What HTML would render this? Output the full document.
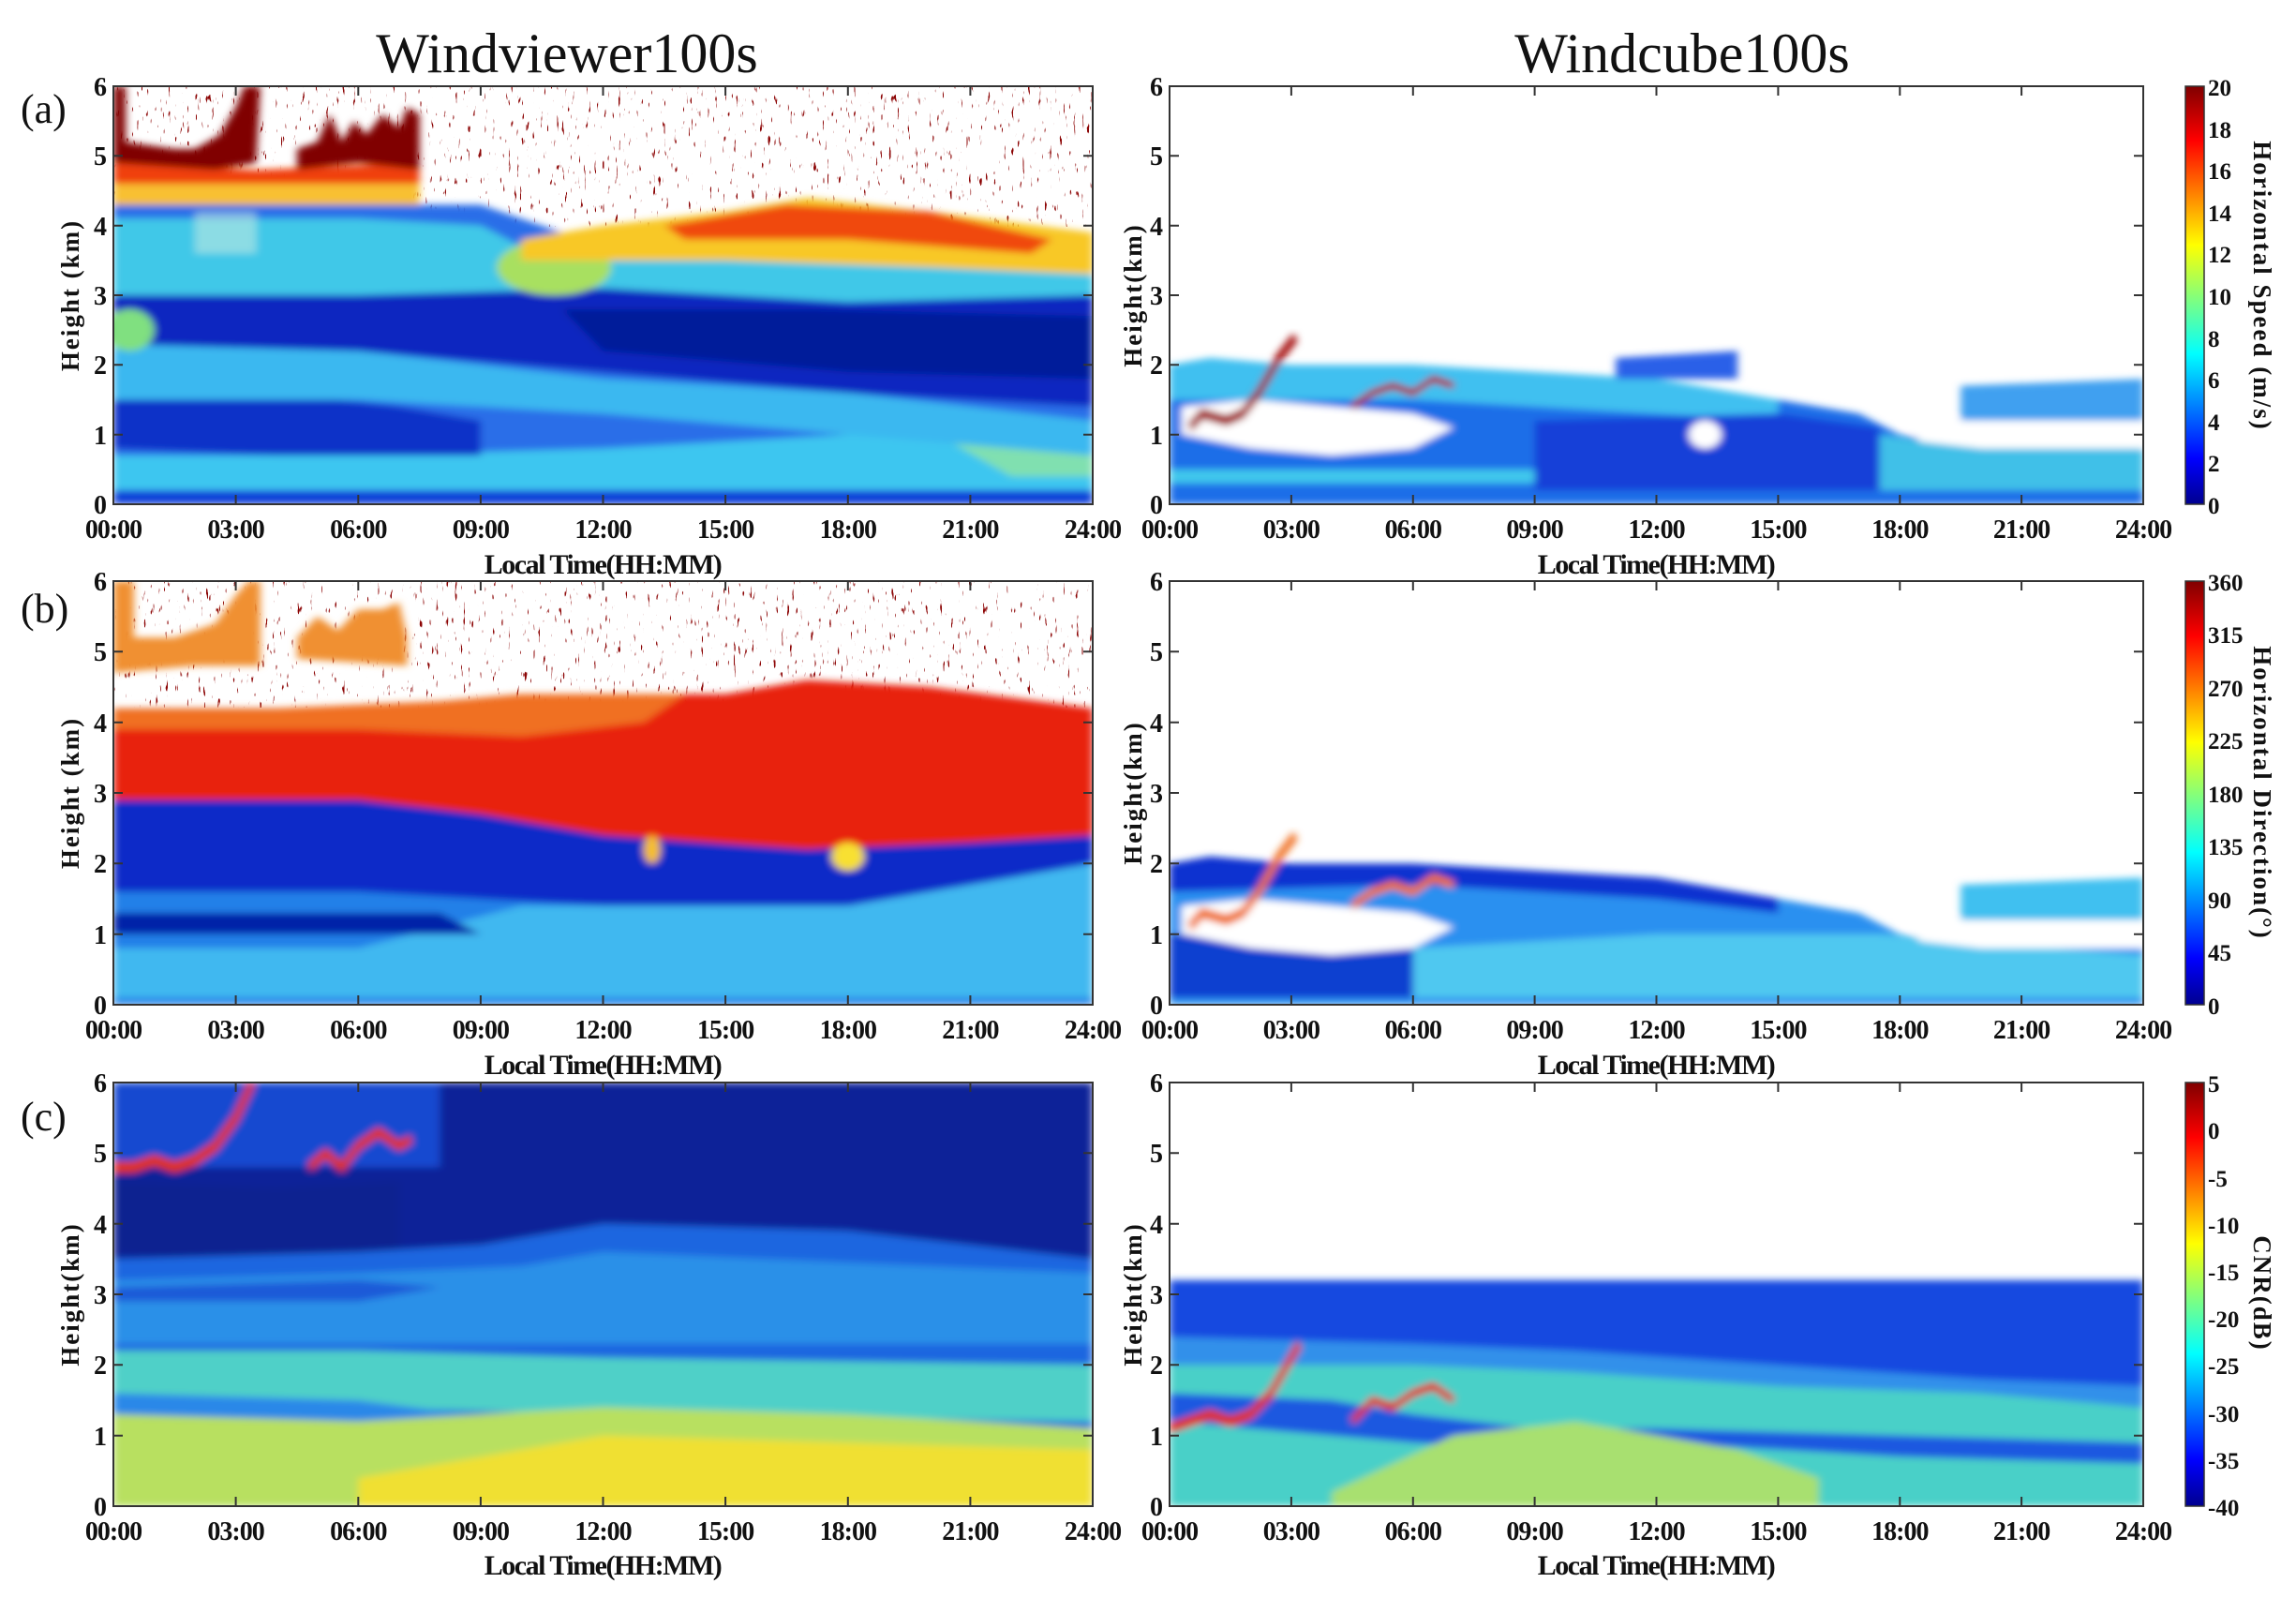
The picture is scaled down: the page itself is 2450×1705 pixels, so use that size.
<!DOCTYPE html>
<html><head><meta charset="utf-8"><style>
html,body{margin:0;padding:0;background:#fff}
svg{display:block}
text{font-family:"Liberation Serif",serif;fill:#111}
.tl{font-size:28px;font-weight:bold;text-anchor:middle;letter-spacing:-1px}
.yl{font-size:28px;font-weight:bold;text-anchor:end}
.cb{font-size:25px;font-weight:bold}
.xt{font-size:30px;font-weight:bold;text-anchor:middle;letter-spacing:-1.5px}
.yt{font-size:27px;font-weight:bold;text-anchor:middle;letter-spacing:2px}
.ttl{font-size:60px;text-anchor:middle}
.pl{font-size:44px}
</style></head><body>
<svg width="2450" height="1705" viewBox="0 0 2450 1705" xmlns="http://www.w3.org/2000/svg">
<defs>
<filter id="bl" x="-5%" y="-5%" width="110%" height="110%"><feGaussianBlur stdDeviation="1.0 0.5"/></filter>
<filter id="spk" x="0" y="0" width="1" height="1" color-interpolation-filters="sRGB"><feTurbulence type="fractalNoise" baseFrequency="0.35 0.07" numOctaves="2" seed="4"/><feColorMatrix values="0 0 0 0 0.55  0 0 0 0 0.02  0 0 0 0 0.02  16 0 0 0 -11.2"/></filter>
<linearGradient id="jet" x1="0" y1="1" x2="0" y2="0">
<stop offset="0" stop-color="#00008f"/><stop offset="0.11" stop-color="#0000ff"/><stop offset="0.36" stop-color="#00ffff"/><stop offset="0.62" stop-color="#ffff00"/><stop offset="0.87" stop-color="#ff0000"/><stop offset="1" stop-color="#800000"/>
</linearGradient>
</defs>

<text class="ttl" x="605" y="77">Windviewer100s</text>
<text class="ttl" x="1795" y="77">Windcube100s</text>
<text class="pl" x="22" y="131">(a)</text>
<text class="pl" x="22" y="664">(b)</text>
<text class="pl" x="22" y="1206">(c)</text>

<!-- ===== Row a left ===== -->
<rect x="121" y="92" width="1045" height="150" filter="url(#spk)"/>
<svg x="121" y="92" width="1045" height="446" viewBox="0 0 240 60" preserveAspectRatio="none">
<g filter="url(#bl)">
<polygon fill="#2a6ee8" points="0,16 75,17 90,17 100,19 110,21 120,22 150,18 170,16 200,18 240,22 240,60 0,60"/>
<polygon fill="#3cc6f0" points="0,53 60,53 120,52 180,50 240,49 240,58 0,58"/>
<polygon fill="#80e0b0" points="205,51 240,50 240,56 220,56"/>
<polygon fill="#1040d8" points="0,58 240,58 240,60 0,60"/>
<polygon fill="#0a30c8" points="0,45 40,44 70,46 90,48 90,53 40,53 0,52"/>
<polygon fill="#3ab8f0" points="0,37 60,38 120,42 180,44 240,48 240,53 180,50 120,47 60,45 0,45"/>
<polygon fill="#0a28c0" points="0,29 60,30 120,29 180,30 240,30 240,46 180,44 120,41 60,38 0,37"/>
<polygon fill="#001a9a" points="110,32 170,32 240,33 240,42 180,41 120,38"/>
<ellipse fill="#80e080" cx="4" cy="35" rx="6" ry="3"/>
<polygon fill="#40c8e8" points="0,19 60,19 90,20 100,23 120,24 180,22 240,24 240,30 180,31 120,29 60,30 0,30"/>
<ellipse fill="#a8e060" cx="108" cy="26" rx="14" ry="4"/>
<polygon fill="#f8c828" points="100,22 120,20 150,18 170,16 200,18 240,21 240,27 200,26 150,25 120,25 100,25"/>
<polygon fill="#f04810" points="135,20 165,17 200,18 230,22 225,24 180,22 140,22"/>
<polygon fill="#f8c030" points="0,13 75,13 75,17 40,17 0,17"/>
<polygon fill="#f04010" points="0,11 35,12 75,11 75,14 40,14 0,14"/>
<polygon fill="#800000" points="0,0 3,0 3,8 15,9 20,9 26,7 30,3 32,0 36,0 35,11 25,12 0,11"/>
<polygon fill="#800000" points="45,9 50,8 53,4 56,8 59,5 62,7 66,4 70,6 72,3 75,4 75,12 60,11 45,12"/>
<polygon fill="#d8f0e0" opacity="0.5" points="20,18 35,18 35,24 20,24"/>
</g>
</svg>

<!-- ===== Row a right ===== -->
<svg x="1248" y="92" width="1039" height="446" viewBox="0 0 240 60" preserveAspectRatio="none">
<g filter="url(#bl)">
<polygon fill="#1e6ee8" points="0,40 10,39 30,40 60,40 90,41 120,42 150,45 170,47 180,50 200,52 240,51 240,60 0,60"/>
<polygon fill="#40c0f0" points="0,40 10,39 30,40 60,40 90,41 120,42 150,45 150,48 120,47 60,45 0,45"/>
<polygon fill="#1440d8" points="90,48 150,47 175,49 175,58 90,58"/>
<polygon fill="#40c8ec" points="0,55 90,55 90,57 0,57"/>
<polygon fill="#40c0e8" points="175,50 200,52 240,51 240,58 175,58"/>
<polygon fill="#ffffff" points="3,46 20,45 40,46 60,47 70,49 60,52 40,53 20,52 3,50"/>
<polygon fill="#ffffff" points="180,47 200,48 240,46 240,52 200,52 185,51"/>
<ellipse fill="#ffffff" cx="132" cy="50" rx="4" ry="2"/>
<polygon fill="#2a60e8" points="110,39 140,38 140,42 110,42"/>
<polygon fill="#40a0f0" points="195,43 240,42 240,48 195,48"/>
<polyline fill="none" stroke="#a00000" stroke-width="1.5" points="5,49 8,47 14,48 18,47 22,44 27,39 31,36"/>
<polyline fill="none" stroke="#b00000" stroke-width="1" points="45,46 50,44 55,43 60,44 65,42 70,43"/>
</g>
</svg>

<!-- ===== Row b left ===== -->
<rect x="121" y="620" width="1045" height="135" filter="url(#spk)"/>
<svg x="121" y="620" width="1045" height="452" viewBox="0 0 240 60" preserveAspectRatio="none">
<g filter="url(#bl)">
<polygon fill="#2080e8" points="0,18 240,18 240,60 0,60"/>
<polygon fill="#40b8f0" points="0,52 60,52 100,46 150,46 200,42 240,40 240,59 0,59"/>
<polygon fill="#0a2cc8" points="0,31 60,31 90,33 120,36 170,38 210,37 240,36 240,40 180,46 120,46 60,44 0,44"/>
<polygon fill="#0020a8" points="0,47 80,47 90,50 0,50"/>
<polygon fill="#e82010" points="0,19 40,19 80,18 100,17 120,16 150,16 170,14 200,15 240,18 240,36 210,37 170,38 120,36 90,33 60,31 0,31"/>
<polygon fill="#f07020" points="0,18 40,18 80,17 100,16 120,16 140,16 130,20 100,22 60,21 0,21"/>
<polygon fill="#f09030" points="0,0 5,0 5,8 15,8 25,6 30,2 33,0 36,0 36,12 20,12 0,13"/>
<polygon fill="#f09030" points="45,8 50,5 55,7 60,4 66,4 70,3 72,8 72,12 45,11"/>
<ellipse fill="#f8e030" cx="180" cy="39" rx="4" ry="2"/>
<ellipse fill="#f8c020" cx="132" cy="38" rx="2" ry="2"/>
</g>
</svg>

<!-- ===== Row b right ===== -->
<svg x="1248" y="620" width="1039" height="452" viewBox="0 0 240 60" preserveAspectRatio="none">
<g filter="url(#bl)">
<polygon fill="#2a90f0" points="0,40 10,39 30,40 60,40 90,41 120,42 150,45 170,47 180,50 200,52 240,51 240,60 0,60"/>
<polygon fill="#0a30d0" points="0,40 10,39 30,40 60,40 90,41 120,42 150,45 150,47 120,45 60,43 0,44"/>
<polygon fill="#50c8f0" points="60,52 120,50 175,50 240,53 240,59 60,59"/>
<polygon fill="#1040d0" points="0,50 60,52 60,59 0,59"/>
<polygon fill="#ffffff" points="3,46 20,45 40,46 60,47 70,49 60,52 40,53 20,52 3,50"/>
<polygon fill="#ffffff" points="180,47 200,48 240,46 240,52 200,52 185,51"/>
<polygon fill="#40c0f0" points="195,43 240,42 240,48 195,48"/>
<polyline fill="none" stroke="#f07020" stroke-width="1.5" points="5,49 8,47 14,48 18,47 22,44 27,39 31,36"/>
<polyline fill="none" stroke="#f07020" stroke-width="1.2" points="45,46 50,44 55,43 60,44 65,42 70,43"/>
</g>
</svg>

<!-- ===== Row c left ===== -->
<svg x="121" y="1155" width="1045" height="452" viewBox="0 0 240 60" preserveAspectRatio="none">
<g filter="url(#bl)">
<rect x="0" y="0" width="240" height="60" fill="#0a2298"/>
<polygon fill="#1848d0" points="0,0 80,0 80,12 0,12"/>
<polygon fill="#0a2090" points="0,14 40,15 70,14 70,24 40,26 0,24"/>
<polygon fill="#1a66e0" points="0,25 60,24 90,23 120,20 180,21 240,25 240,60 0,60"/>
<polygon fill="#2a90e8" points="0,28 60,27 100,26 120,24 240,27 240,37 120,37 0,37"/>
<polygon fill="#1a5ad8" points="0,29 60,28 80,29 60,31 0,31"/>
<polygon fill="#50d0c8" points="0,38 60,38 120,39 240,40 240,48 120,47 0,45"/>
<polygon fill="#2a88e8" points="0,44 60,45 100,48 60,48 0,47"/>
<polygon fill="#b8e060" points="0,47 60,48 120,46 180,47 240,49 240,60 0,60"/>
<polygon fill="#f0e030" points="60,56 120,50 180,51 240,52 240,60 60,60"/>
<polyline fill="none" stroke="#e03010" stroke-width="1.6" points="0,12 5,12 10,11 15,12 20,11 25,9 30,5 34,0"/>
<polyline fill="none" stroke="#e03010" stroke-width="1.4" points="48,12 52,10 56,12 60,9 65,7 70,9 73,8"/>
</g>
</svg>

<!-- ===== Row c right ===== -->
<svg x="1248" y="1155" width="1039" height="452" viewBox="0 0 240 60" preserveAspectRatio="none">
<g filter="url(#bl)">
<rect x="0" y="28" width="240" height="32" fill="#48d0c8"/>
<polygon fill="#1248e0" points="0,28 240,28 240,46 200,44 150,41 100,40 60,39 0,38"/>
<polygon fill="#3090ea" points="0,36 60,37 100,38 150,40 200,42 240,43 240,46 200,44 150,43 100,41 60,40 0,40"/>
<polygon fill="#1a58e0" points="0,44 40,45 60,47 90,49 120,49 180,50 240,51 240,54 180,53 120,51 90,52 60,51 0,48"/>
<polygon fill="#a8e070" points="40,58 70,50 100,48 140,52 160,56 160,60 40,60"/>
<polyline fill="none" stroke="#e03010" stroke-width="1.5" points="0,49 5,48 10,47 15,48 20,47 25,44 29,40 32,37"/>
<polyline fill="none" stroke="#e03010" stroke-width="1.2" points="45,48 50,45 55,46 60,44 65,43 70,45"/>
</g>
</svg>

<g fill="none" stroke="#333" stroke-width="2">
<rect x="121" y="92" width="1045" height="446"/>
<rect x="1248" y="92" width="1039" height="446"/>
<rect x="121" y="620" width="1045" height="452"/>
<rect x="1248" y="620" width="1039" height="452"/>
<rect x="121" y="1155" width="1045" height="452"/>
<rect x="1248" y="1155" width="1039" height="452"/>
<path d="M251.6,92v10M382.3,92v10M512.9,92v10M643.5,92v10M774.1,92v10M904.8,92v10M1035.4,92v10M251.6,538v-10M382.3,538v-10M512.9,538v-10M643.5,538v-10M774.1,538v-10M904.8,538v-10M1035.4,538v-10
M251.6,620v10M382.3,620v10M512.9,620v10M643.5,620v10M774.1,620v10M904.8,620v10M1035.4,620v10M251.6,1072v-10M382.3,1072v-10M512.9,1072v-10M643.5,1072v-10M774.1,1072v-10M904.8,1072v-10M1035.4,1072v-10
M251.6,1155v10M382.3,1155v10M512.9,1155v10M643.5,1155v10M774.1,1155v10M904.8,1155v10M1035.4,1155v10M251.6,1607v-10M382.3,1607v-10M512.9,1607v-10M643.5,1607v-10M774.1,1607v-10M904.8,1607v-10M1035.4,1607v-10"/>
<path d="M1377.9,92v10M1507.8,92v10M1637.6,92v10M1767.5,92v10M1897.4,92v10M2027.3,92v10M2157.1,92v10M1377.9,538v-10M1507.8,538v-10M1637.6,538v-10M1767.5,538v-10M1897.4,538v-10M2027.3,538v-10M2157.1,538v-10
M1377.9,620v10M1507.8,620v10M1637.6,620v10M1767.5,620v10M1897.4,620v10M2027.3,620v10M2157.1,620v10M1377.9,1072v-10M1507.8,1072v-10M1637.6,1072v-10M1767.5,1072v-10M1897.4,1072v-10M2027.3,1072v-10M2157.1,1072v-10
M1377.9,1155v10M1507.8,1155v10M1637.6,1155v10M1767.5,1155v10M1897.4,1155v10M2027.3,1155v10M2157.1,1155v10M1377.9,1607v-10M1507.8,1607v-10M1637.6,1607v-10M1767.5,1607v-10M1897.4,1607v-10M2027.3,1607v-10M2157.1,1607v-10"/>
<path d="M121,463.7h10M121,389.3h10M121,315h10M121,240.7h10M121,166.3h10M1166,463.7h-10M1166,389.3h-10M1166,315h-10M1166,240.7h-10M1166,166.3h-10
M1248,463.7h10M1248,389.3h10M1248,315h10M1248,240.7h10M1248,166.3h10M2287,463.7h-10M2287,389.3h-10M2287,315h-10M2287,240.7h-10M2287,166.3h-10
M121,996.7h10M121,921.3h10M121,846h10M121,770.7h10M121,695.3h10M1166,996.7h-10M1166,921.3h-10M1166,846h-10M1166,770.7h-10M1166,695.3h-10
M1248,996.7h10M1248,921.3h10M1248,846h10M1248,770.7h10M1248,695.3h10M2287,996.7h-10M2287,921.3h-10M2287,846h-10M2287,770.7h-10M2287,695.3h-10
M121,1531.7h10M121,1456.3h10M121,1381h10M121,1305.7h10M121,1230.3h10M1166,1531.7h-10M1166,1456.3h-10M1166,1381h-10M1166,1305.7h-10M1166,1230.3h-10
M1248,1531.7h10M1248,1456.3h10M1248,1381h10M1248,1305.7h10M1248,1230.3h10M2287,1531.7h-10M2287,1456.3h-10M2287,1381h-10M2287,1305.7h-10M2287,1230.3h-10"/>
</g>

<rect x="2332" y="92" width="20" height="446" fill="url(#jet)" stroke="#333" stroke-width="1.5"/>
<rect x="2332" y="620" width="20" height="452" fill="url(#jet)" stroke="#333" stroke-width="1.5"/>
<rect x="2332" y="1155" width="20" height="452" fill="url(#jet)" stroke="#333" stroke-width="1.5"/>
<g>
<text class="cb" x="2356" y="102">20</text><text class="cb" x="2356" y="147">18</text><text class="cb" x="2356" y="191">16</text><text class="cb" x="2356" y="236">14</text><text class="cb" x="2356" y="280">12</text><text class="cb" x="2356" y="325">10</text><text class="cb" x="2356" y="370">8</text><text class="cb" x="2356" y="414">6</text><text class="cb" x="2356" y="459">4</text><text class="cb" x="2356" y="503">2</text><text class="cb" x="2356" y="548">0</text>
<text class="cb" x="2356" y="630">360</text><text class="cb" x="2356" y="686">315</text><text class="cb" x="2356" y="743">270</text><text class="cb" x="2356" y="799">225</text><text class="cb" x="2356" y="856">180</text><text class="cb" x="2356" y="912">135</text><text class="cb" x="2356" y="969">90</text><text class="cb" x="2356" y="1025">45</text><text class="cb" x="2356" y="1082">0</text>
<text class="cb" x="2356" y="1165">5</text><text class="cb" x="2356" y="1215">0</text><text class="cb" x="2356" y="1266">-5</text><text class="cb" x="2356" y="1316">-10</text><text class="cb" x="2356" y="1366">-15</text><text class="cb" x="2356" y="1416">-20</text><text class="cb" x="2356" y="1466">-25</text><text class="cb" x="2356" y="1517">-30</text><text class="cb" x="2356" y="1567">-35</text><text class="cb" x="2356" y="1617">-40</text>
</g>
<text class="yt" transform="translate(2405,305) rotate(90)">Horizontal Speed (m/s)</text>
<text class="yt" transform="translate(2405,846) rotate(90)">Horizontal Direction(°)</text>
<text class="yt" transform="translate(2405,1380) rotate(90)">CNR(dB)</text>

<text class="yt" transform="translate(84,315) rotate(-90)">Height (km)</text>
<text class="yt" transform="translate(84,846) rotate(-90)">Height (km)</text>
<text class="yt" transform="translate(84,1381) rotate(-90)">Height(km)</text>
<text class="yt" transform="translate(1218,315) rotate(-90)">Height(km)</text>
<text class="yt" transform="translate(1218,846) rotate(-90)">Height(km)</text>
<text class="yt" transform="translate(1218,1381) rotate(-90)">Height(km)</text>

<g>
<text class="yl" x="114" y="548">0</text><text class="yl" x="114" y="474">1</text><text class="yl" x="114" y="399">2</text><text class="yl" x="114" y="325">3</text><text class="yl" x="114" y="251">4</text><text class="yl" x="114" y="176">5</text><text class="yl" x="114" y="102">6</text>
<text class="yl" x="1241" y="548">0</text><text class="yl" x="1241" y="474">1</text><text class="yl" x="1241" y="399">2</text><text class="yl" x="1241" y="325">3</text><text class="yl" x="1241" y="251">4</text><text class="yl" x="1241" y="176">5</text><text class="yl" x="1241" y="102">6</text>
<text class="yl" x="114" y="1082">0</text><text class="yl" x="114" y="1007">1</text><text class="yl" x="114" y="931">2</text><text class="yl" x="114" y="856">3</text><text class="yl" x="114" y="781">4</text><text class="yl" x="114" y="705">5</text><text class="yl" x="114" y="630">6</text>
<text class="yl" x="1241" y="1082">0</text><text class="yl" x="1241" y="1007">1</text><text class="yl" x="1241" y="931">2</text><text class="yl" x="1241" y="856">3</text><text class="yl" x="1241" y="781">4</text><text class="yl" x="1241" y="705">5</text><text class="yl" x="1241" y="630">6</text>
<text class="yl" x="114" y="1617">0</text><text class="yl" x="114" y="1542">1</text><text class="yl" x="114" y="1466">2</text><text class="yl" x="114" y="1391">3</text><text class="yl" x="114" y="1316">4</text><text class="yl" x="114" y="1240">5</text><text class="yl" x="114" y="1165">6</text>
<text class="yl" x="1241" y="1617">0</text><text class="yl" x="1241" y="1542">1</text><text class="yl" x="1241" y="1466">2</text><text class="yl" x="1241" y="1391">3</text><text class="yl" x="1241" y="1316">4</text><text class="yl" x="1241" y="1240">5</text><text class="yl" x="1241" y="1165">6</text>
</g>

<g>
<text class="tl" x="121" y="574">00:00</text><text class="tl" x="251.6" y="574">03:00</text><text class="tl" x="382.3" y="574">06:00</text><text class="tl" x="512.9" y="574">09:00</text><text class="tl" x="643.5" y="574">12:00</text><text class="tl" x="774.1" y="574">15:00</text><text class="tl" x="904.8" y="574">18:00</text><text class="tl" x="1035.4" y="574">21:00</text><text class="tl" x="1166" y="574">24:00</text>
<text class="tl" x="1248" y="574">00:00</text><text class="tl" x="1377.9" y="574">03:00</text><text class="tl" x="1507.8" y="574">06:00</text><text class="tl" x="1637.6" y="574">09:00</text><text class="tl" x="1767.5" y="574">12:00</text><text class="tl" x="1897.4" y="574">15:00</text><text class="tl" x="2027.3" y="574">18:00</text><text class="tl" x="2157.1" y="574">21:00</text><text class="tl" x="2287" y="574">24:00</text>
<text class="tl" x="121" y="1108">00:00</text><text class="tl" x="251.6" y="1108">03:00</text><text class="tl" x="382.3" y="1108">06:00</text><text class="tl" x="512.9" y="1108">09:00</text><text class="tl" x="643.5" y="1108">12:00</text><text class="tl" x="774.1" y="1108">15:00</text><text class="tl" x="904.8" y="1108">18:00</text><text class="tl" x="1035.4" y="1108">21:00</text><text class="tl" x="1166" y="1108">24:00</text>
<text class="tl" x="1248" y="1108">00:00</text><text class="tl" x="1377.9" y="1108">03:00</text><text class="tl" x="1507.8" y="1108">06:00</text><text class="tl" x="1637.6" y="1108">09:00</text><text class="tl" x="1767.5" y="1108">12:00</text><text class="tl" x="1897.4" y="1108">15:00</text><text class="tl" x="2027.3" y="1108">18:00</text><text class="tl" x="2157.1" y="1108">21:00</text><text class="tl" x="2287" y="1108">24:00</text>
<text class="tl" x="121" y="1643">00:00</text><text class="tl" x="251.6" y="1643">03:00</text><text class="tl" x="382.3" y="1643">06:00</text><text class="tl" x="512.9" y="1643">09:00</text><text class="tl" x="643.5" y="1643">12:00</text><text class="tl" x="774.1" y="1643">15:00</text><text class="tl" x="904.8" y="1643">18:00</text><text class="tl" x="1035.4" y="1643">21:00</text><text class="tl" x="1166" y="1643">24:00</text>
<text class="tl" x="1248" y="1643">00:00</text><text class="tl" x="1377.9" y="1643">03:00</text><text class="tl" x="1507.8" y="1643">06:00</text><text class="tl" x="1637.6" y="1643">09:00</text><text class="tl" x="1767.5" y="1643">12:00</text><text class="tl" x="1897.4" y="1643">15:00</text><text class="tl" x="2027.3" y="1643">18:00</text><text class="tl" x="2157.1" y="1643">21:00</text><text class="tl" x="2287" y="1643">24:00</text>
</g>

<text class="xt" x="643" y="612">Local Time(HH:MM)</text>
<text class="xt" x="1767" y="612">Local Time(HH:MM)</text>
<text class="xt" x="643" y="1146">Local Time(HH:MM)</text>
<text class="xt" x="1767" y="1146">Local Time(HH:MM)</text>
<text class="xt" x="643" y="1680">Local Time(HH:MM)</text>
<text class="xt" x="1767" y="1680">Local Time(HH:MM)</text>
</svg>
</body></html>
